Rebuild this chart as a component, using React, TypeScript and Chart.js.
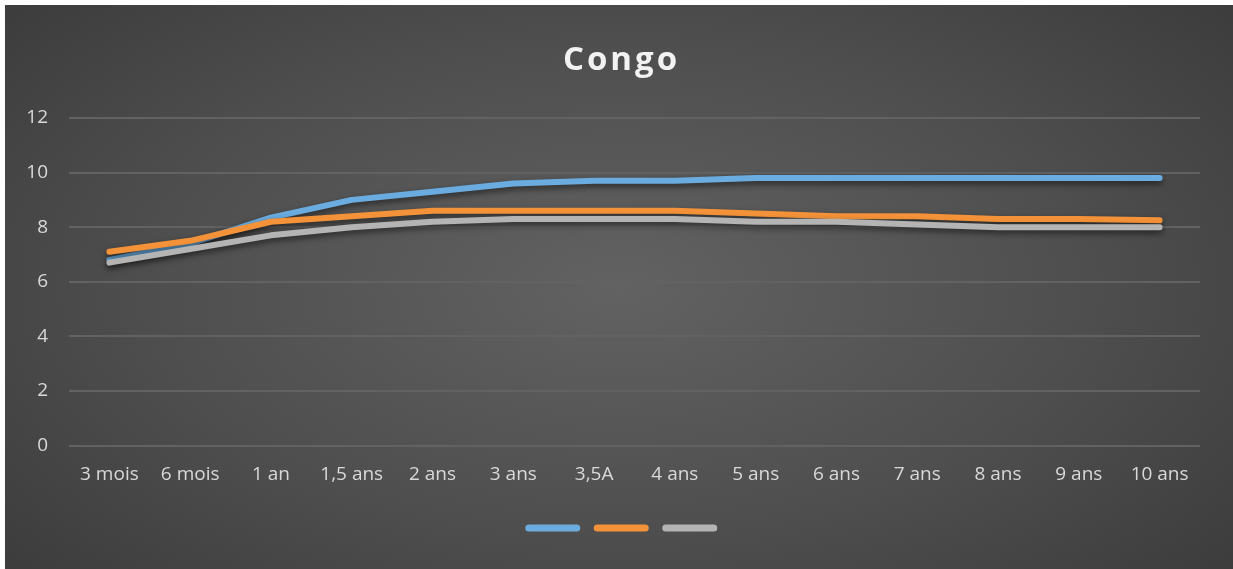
import React, { useEffect, useRef } from "react";
import { Chart, registerables } from "chart.js";

Chart.register(...registerables);

const chartTitle = "Congo";
const categories = ["3 mois", "6 mois", "1 an", "1,5 ans", "2 ans", "3 ans", "3,5A", "4 ans", "5 ans", "6 ans", "7 ans", "8 ans", "9 ans", "10 ans"];
const seriesBlue = [6.8, 7.4, 8.35, 9.0, 9.3, 9.6, 9.7, 9.7, 9.8, 9.8, 9.8, 9.8, 9.8, 9.8];
const seriesOrange = [7.1, 7.5, 8.2, 8.4, 8.6, 8.6, 8.6, 8.6, 8.5, 8.4, 8.4, 8.3, 8.3, 8.25];
const seriesGray = [6.7, 7.2, 7.7, 8.0, 8.2, 8.3, 8.3, 8.3, 8.2, 8.2, 8.1, 8.0, 8.0, 8.0];
const yMin = 0;
const yMax = 12;
const yStep = 2;

const FONT = "'Open Sans', 'Noto Sans', sans-serif";

export default function App() {
  const ref = useRef<HTMLCanvasElement | null>(null);

  useEffect(() => {
    if (!ref.current) return;
    const shadowPlugin = {
      id: "lineShadow",
      beforeDatasetsDraw(chart: any) {
        const ctx = chart.ctx;
        ctx.save();
        ctx.shadowColor = "rgba(0,0,0,0.55)";
        ctx.shadowBlur = 6;
        ctx.shadowOffsetX = 0;
        ctx.shadowOffsetY = 3;
      },
      afterDatasetsDraw(chart: any) {
        chart.ctx.restore();
      },
    };
    const legendShift = {
      id: "legendShift",
      beforeDraw(chart: any) {
        const lg = chart.legend;
        if (lg) {
          lg.left += 19;
          lg.right += 19;
        }
      },
    };
    const titlePlugin = {
      id: "spacedTitle",
      afterDraw(chart: any) {
        const ctx = chart.ctx;
        ctx.save();
        ctx.font = `bold 33px ${FONT}`;
        (ctx as any).letterSpacing = "3px";
        ctx.fillStyle = "#f2f2f2";
        ctx.textAlign = "center";
        ctx.textBaseline = "middle";
        ctx.fillText(chartTitle, 615 + 1.5, 56);
        ctx.restore();
      },
    };
    const mk = (label: string, data: number[], color: string, order: number) => ({
      label,
      data,
      borderColor: color,
      backgroundColor: color,
      borderWidth: 6,
      pointRadius: 0,
      pointHoverRadius: 0,
      borderCapStyle: "round" as const,
      borderJoinStyle: "round" as const,
      tension: 0,
      order,
    });
    const chart = new Chart(ref.current, {
      type: "line",
      data: {
        labels: categories,
        datasets: [
          mk("Série 1", seriesBlue, "#6aace0", 2),
          mk("Série 2", seriesOrange, "#f39238", 1),
          mk("Série 3", seriesGray, "#b4b4b4", 0),
        ],
      },
      plugins: [shadowPlugin, legendShift, titlePlugin],
      options: {
        animation: false,
        responsive: true,
        maintainAspectRatio: false,
        layout: { padding: { top: 113, left: 0, right: 33, bottom: 27.5 } },
        plugins: {
          title: { display: false },
          tooltip: { enabled: false },
          legend: {
            display: true,
            position: "bottom",
            labels: {
              boxWidth: 55,
              boxHeight: 7,
              padding: 13,
              useBorderRadius: true,
              borderRadius: 3.5,
              font: { size: 1, family: FONT },
              color: "#d9d9d9",
              generateLabels(chart: any) {
                return chart.data.datasets.map((ds: any, i: number) => ({
                  text: "",
                  fillStyle: ds.borderColor,
                  strokeStyle: ds.borderColor,
                  lineWidth: 0,
                  hidden: false,
                  datasetIndex: i,
                  borderRadius: 3.5,
                }));
              },
            },
          },
        },
        scales: {
          x: {
            offset: true,
            grid: { display: false, drawTicks: false },
            border: { display: false },
            afterFit(scale: any) {
              scale.height = 66;
            },
            ticks: {
              color: "#d9d9d9",
              font: { size: 19, family: FONT },
              padding: 18,
              maxRotation: 0,
              autoSkip: false,
            },
          },
          y: {
            min: yMin,
            max: yMax,
            afterFit(scale: any) {
              scale.width = 64;
            },
            grid: { color: "#626262", lineWidth: 2, drawTicks: false },
            border: { display: false },
            ticks: {
              stepSize: yStep,
              color: "#d9d9d9",
              font: { size: 19, family: FONT },
              padding: 21,
            },
          },
        },
      },
    });
    return () => chart.destroy();
  }, []);

  return (
    <div
      style={{
        position: "absolute",
        left: 5,
        top: 5,
        width: 1228,
        height: 564,
        background: "radial-gradient(ellipse 70% 80% at 50% 50%, #626262 0%, #4e4e4e 55%, #3a3a3a 100%)",
      }}
    >
      <canvas ref={ref} />
    </div>
  );
}
